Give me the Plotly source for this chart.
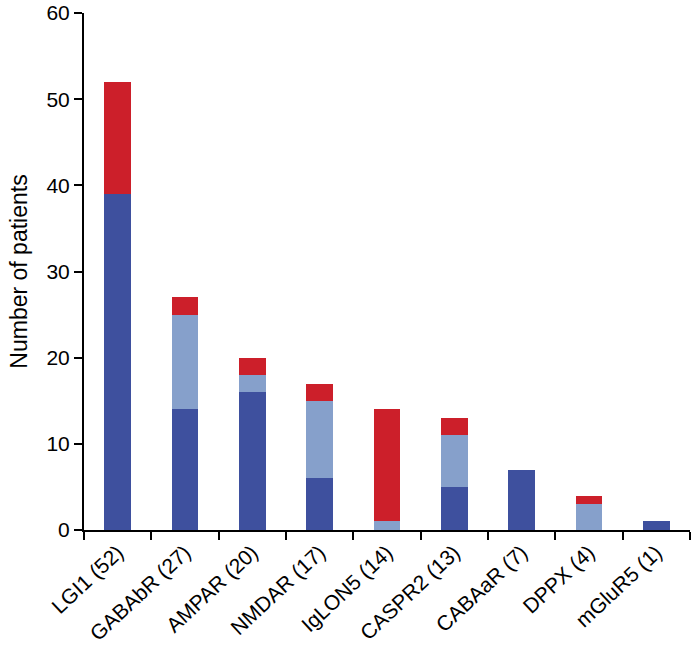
import plotly.graph_objects as go

categories = ["LGI1 (52)", "GABAbR (27)", "AMPAR (20)", "NMDAR (17)", "IgLON5 (14)",
              "CASPR2 (13)", "CABAaR (7)", "DPPX (4)", "mGluR5 (1)"]
dark_blue = [39, 14, 16, 6, 0, 5, 7, 0, 1]
light_blue = [0, 11, 2, 9, 1, 6, 0, 3, 0]
red = [13, 2, 2, 2, 13, 2, 0, 1, 0]

font = "Liberation Sans, Arial, Helvetica, sans-serif"

fig = go.Figure()
for vals, col in [(dark_blue, "#3e509e"), (light_blue, "#86a0cb"), (red, "#cc1f2a")]:
    fig.add_trace(go.Bar(x=categories, y=vals, marker_color=col, marker_line_width=0))

fig.update_layout(
    barmode="stack",
    bargap=0.6,
    showlegend=False,
    plot_bgcolor="white",
    paper_bgcolor="white",
    width=693, height=648,
    margin=dict(l=84, r=3, t=13, b=118),
    font=dict(family=font, size=21, color="black"),
)
fig.update_xaxes(
    type="category",
    showline=True, linecolor="black", linewidth=2,
    ticks="outside", tickson="boundaries", ticklen=8, tickwidth=2, tickcolor="black",
    tickangle=-43, tickfont=dict(size=21),
    showgrid=False, automargin=False,
)
fig.update_yaxes(
    range=[0, 60], tickvals=[0, 10, 20, 30, 40, 50, 60],
    showline=True, linecolor="black", linewidth=2,
    ticks="outside", ticklen=8, tickwidth=2, tickcolor="black",
    showgrid=False, zeroline=False, automargin=False,
    title=dict(text="Number of patients", font=dict(size=23), standoff=12),
    tickfont=dict(size=21),
)

# drop the default 8px body margin so the figure sits at the page corner
fig.write_html("out.html", config={"displayModeBar": False},
               post_script="document.body.style.margin = '0';")
